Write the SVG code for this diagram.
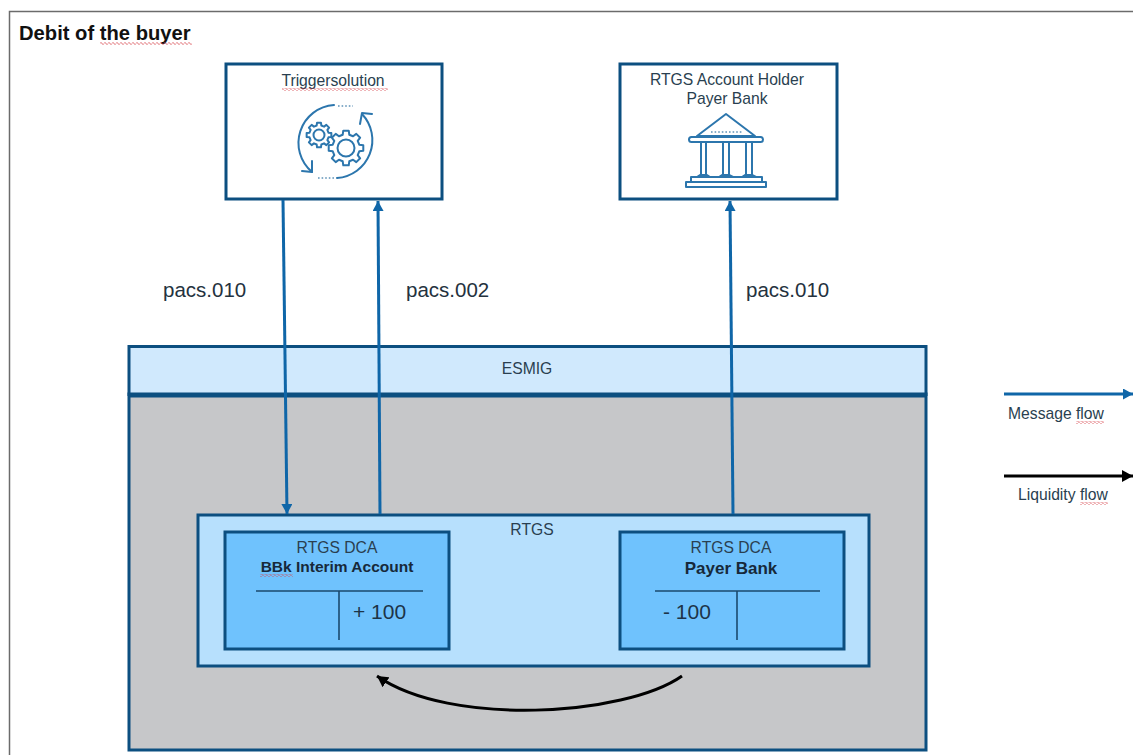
<svg xmlns="http://www.w3.org/2000/svg" xmlns:xlink="http://www.w3.org/1999/xlink" width="1133" height="755" viewBox="0 0 1133 755">
<style>
text{font-family:"Liberation Sans",Arial,sans-serif;fill:#2a3f50;font-size:15.7px}
.c{text-anchor:middle}
.b{font-weight:bold;fill:#17293a}
.lab{font-size:20.5px;fill:#24323e}
.amt{font-size:21px;fill:#1d3448}
.box{stroke:#0c4f80;stroke-width:3}
.white{fill:#fff}
.acct{fill:#6fc2fd}
.tl{stroke:#1b4a6e;stroke-width:1.6;fill:none}
.msg{stroke:#0f66a8;stroke-width:3;fill:none}
.liq{stroke:#000;stroke-width:3;fill:none}
.ico{stroke:#2c76ad;stroke-width:2;fill:none;stroke-linejoin:round;stroke-linecap:round}
.dots{stroke:#5f93b8;stroke-width:1.6;stroke-dasharray:1.6 2;fill:none}
.gear{vector-effect:non-scaling-stroke}
</style>
<defs>
<marker id="am" markerUnits="userSpaceOnUse" markerWidth="11" markerHeight="11" refX="10" refY="5.5" orient="auto"><path d="M0 0L10 5.5L0 11Z" fill="#0f66a8"/></marker>
<marker id="al" markerUnits="userSpaceOnUse" markerWidth="12" markerHeight="12" refX="11" refY="6" orient="auto"><path d="M0 0L11 6L0 12Z" fill="#000"/></marker>
<pattern id="wave" width="4" height="3" patternUnits="userSpaceOnUse"><path d="M0 1.5Q1 -.5 2 1.5T4 1.5" fill="none" stroke="#d9424a" stroke-width=".9"/></pattern>
<polygon id="g" class="gear" points="7.57,-1.89 9.88,-1.56 9.88,1.56 7.57,1.89 6.69,4.02 8.09,5.88 5.88,8.09 4.02,6.69 1.89,7.57 1.56,9.88 -1.56,9.88 -1.89,7.57 -4.02,6.69 -5.88,8.09 -8.09,5.88 -6.69,4.02 -7.57,1.89 -9.88,1.56 -9.88,-1.56 -7.57,-1.89 -6.69,-4.02 -8.09,-5.88 -5.88,-8.09 -4.02,-6.69 -1.89,-7.57 -1.56,-9.88 1.56,-9.88 1.89,-7.57 4.02,-6.69 5.88,-8.09 8.09,-5.88 6.69,-4.02"/>
</defs>
<rect width="1133" height="755" fill="#fff"/>
<path id="frame" d="M9.5 755V11.5H1133" fill="none" stroke="#6b6b6b" stroke-width="1.5"/>
<g id="title"><text x="19" y="40" class="b" style="font-size:20.2px;fill:#111">Debit of the buyer</text><rect x="100" y="42" width="92" height="3" fill="url(#wave)"/></g>

<g id="trigger">
<rect x="226" y="64" width="216" height="135" class="box white"/>
<text x="333" y="86" class="c">Triggersolution</text><rect x="282" y="88" width="106" height="3" fill="url(#wave)"/>
<g class="ico">
<path d="M334 105A38 38 0 0 0 312 172"/><path d="M302 171L312 172L312 161"/>
<path d="M337 178A38 38 0 0 0 362 114"/><path d="M372 114L362 113L360 124"/>
<use xlink:href="#g" transform="translate(346 148) scale(1.75)"/><circle cx="346" cy="148" r="8.5"/>
<use xlink:href="#g" transform="translate(319 135) scale(1.25)"/><circle cx="319" cy="135" r="5.5"/>
</g>
<path class="dots" d="M338 106H353M318 178H335"/>
</g>

<g id="payer">
<rect x="620" y="64" width="217" height="135" class="box white"/>
<text x="727" y="85" class="c">RTGS Account Holder</text>
<text x="727" y="104" class="c">Payer Bank</text>
<g class="ico">
<path d="M697 136L726 114L755 136Z"/>
<rect x="689" y="137" width="74" height="5" rx="2.5"/>
<path d="M701 142V175M706 142V175M723 142V175M729 142V175M746 142V175M752 142V175"/>
<path d="M697 177L700 175H707L710 177M719 177L722 175H729L733 177M742 177L745 175H752L756 177"/>
<rect x="691" y="177" width="71" height="5"/>
<rect x="686" y="182" width="80" height="5"/>
</g>
<path class="dots" d="M711 132H743"/>
</g>

<g id="platform">
<rect x="129" y="394" width="797" height="356" fill="#c6c7c9" class="box"/>
</g>
<g id="esmig">
<rect x="129" y="346.500" width="797" height="48" fill="#d0e9fd" class="box"/>
<path d="M129 395H926" stroke="#0c4f80" stroke-width="5"/>
<text x="527" y="374" class="c">ESMIG</text>
</g>
<g id="rtgs">
<rect x="198" y="515" width="671" height="151" fill="#b7e0fd" class="box"/>
<text x="532" y="535" class="c">RTGS</text>
</g>
<g id="dca-interim">
<rect x="225" y="532" width="224" height="117" class="box acct"/>
<text x="337" y="553" class="c">RTGS DCA</text>
<text x="337" y="572" class="c b" style="font-size:15.500px">BBk Interim Account</text><rect x="260" y="574" width="33" height="3" fill="url(#wave)"/>
<path class="tl" d="M256 591H423M339 591V640"/>
<text x="353" y="619" class="amt">+ 100</text>
</g>
<g id="dca-payer">
<rect x="620" y="532" width="224" height="117" class="box acct"/>
<text x="731" y="553" class="c">RTGS DCA</text>
<text x="731" y="574" class="c b" style="font-size:17px">Payer Bank</text>
<path class="tl" d="M655 591H820M737 591V640"/>
<text x="663" y="619" class="amt">- 100</text>
</g>

<g id="connectors">
<path class="msg" marker-end="url(#am)" d="M283 200L287 514"/>
<path class="msg" marker-end="url(#am)" d="M380 514L378 201"/>
<path class="msg" marker-end="url(#am)" d="M733 514L730 201"/>
<path class="liq" marker-end="url(#al)" d="M682 676C625 716 450 727 377 676"/>
</g>
<g id="connector-labels">
<text x="163" y="297" class="lab">pacs.010</text>
<text x="406" y="297" class="lab">pacs.002</text>
<text x="746" y="297" class="lab">pacs.010</text>
</g>
<g id="legend">
<path class="msg" marker-end="url(#am)" d="M1004 394H1133"/>
<text x="1008" y="419">Message flow</text><rect x="1076" y="421" width="28" height="3" fill="url(#wave)"/>
<path class="liq" marker-end="url(#al)" d="M1004 476H1133"/>
<text x="1018" y="500">Liquidity flow</text><rect x="1080" y="502" width="28" height="3" fill="url(#wave)"/>
</g>
</svg>
